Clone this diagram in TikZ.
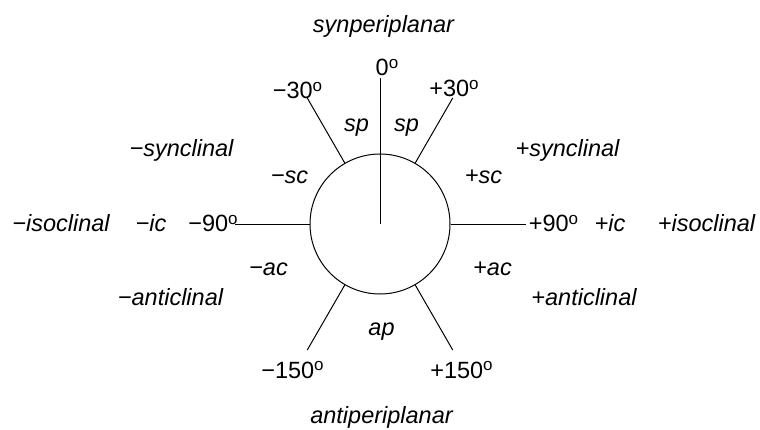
\documentclass[tikz,border=0pt]{standalone}
\usepackage{fontspec}
\setmainfont{Liberation Sans}
\newcommand{\dg}{\raisebox{7.5pt}{\fontsize{17}{17}\selectfont o}}
\begin{document}
\begin{tikzpicture}[x=1pt, y=1pt, line width=1pt,
    every node/.style={inner sep=0pt, anchor=base, font=\fontsize{23.5}{28}\selectfont},
    conf/.style={font=\fontsize{23.5}{28}\selectfont\itshape}]
    \useasboundingbox (0,0) rectangle (760,429);
    \node[circle, draw, anchor=center, minimum size=140pt] (ring) at (380,205) {};
    % dihedral lines
    \draw (ring.center) -- ++(90:146pt) coordinate (e0);
    \draw (ring.60) -- ++(60:75pt) coordinate (ep30);  \draw (ring.120) -- ++(120:75pt) coordinate (em30);
    \draw (ring.0) -- ++(0:75pt) coordinate (ep90);    \draw (ring.180) -- ++(180:75pt) coordinate (em90);
    \draw (ring.-60) -- ++(-60:75pt) coordinate (ep150); \draw (ring.240) -- ++(240:75pt) coordinate (em150);
    % angles
    \node (d0) at (387,353) {0\dg};
    \node (dm30) at (297.5,330) {−30\dg}; \node (dp30) at (454,332) {+30\dg};
    \node (dm90) at (213,197) {−90\dg}; \node (dp90) at (553.5,197) {+90\dg};
    \node (dm150) at (292.5,51) {−150\dg}; \node (dp150) at (461.5,51) {+150\dg};
    % short names
    \node[conf] (spl) at (356.5,297) {sp}; \node[conf] (spr) at (406.5,297) {sp};
    \node[conf] (scm) at (289.5,245) {−sc}; \node[conf] (scp) at (483.5,245) {+sc};
    \node[conf] (icm) at (151,197) {−ic}; \node[conf] (icp) at (610,197) {+ic};
    \node[conf] (acm) at (268.5,154) {−ac}; \node[conf] (acp) at (492.5,154) {+ac};
    \node[conf] (ap) at (381.5,94) {ap};
    % full names
    \node[conf] (syn) at (383.5,396) {synperiplanar};
    \node[conf] (synm) at (181.5,272) {−synclinal}; \node[conf] (synp) at (567.5,272) {+synclinal};
    \node[conf] (isom) at (61,197) {−isoclinal}; \node[conf] (isop) at (706.5,197) {+isoclinal};
    \node[conf] (antim) at (170.5,124) {−anticlinal}; \node[conf] (antip) at (584,124) {+anticlinal};
    \node[conf] (anti) at (381.5,6) {antiperiplanar};
\end{tikzpicture}
\end{document}
